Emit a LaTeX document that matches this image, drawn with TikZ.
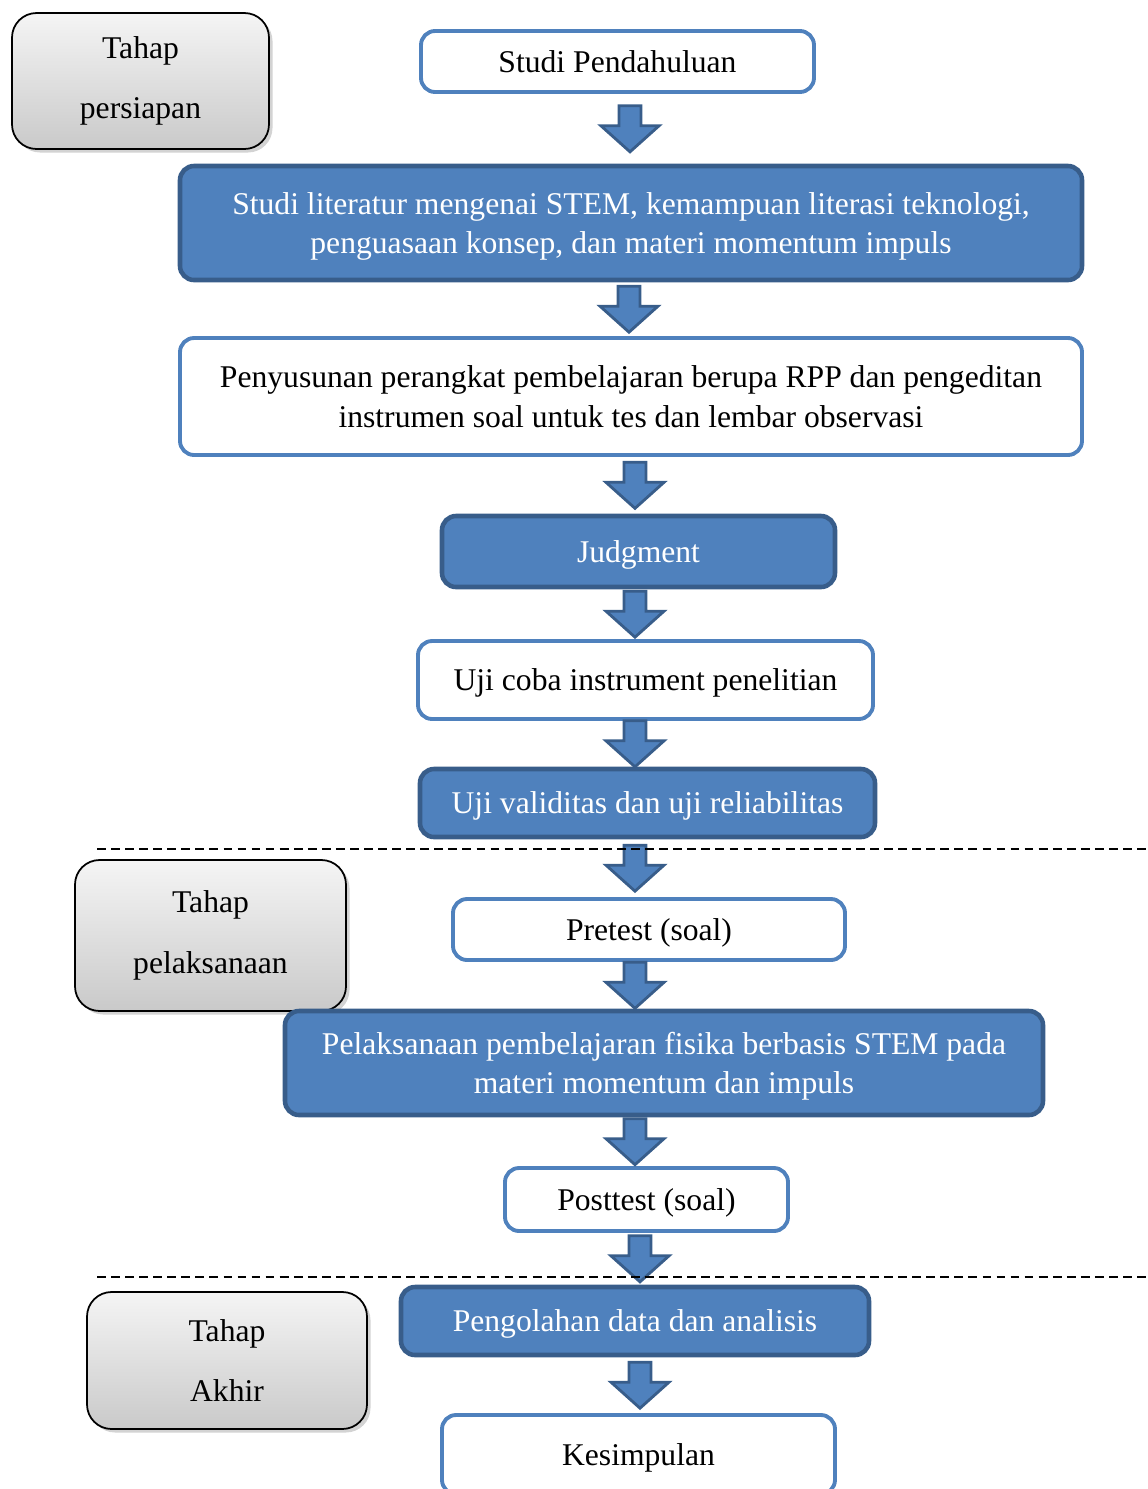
\documentclass[tikz,border=0pt]{standalone}
\usepackage{fontspec}
\setmainfont{Liberation Serif}
\usetikzlibrary{calc,shadows}
\definecolor{biru}{HTML}{4F81BD}
\definecolor{birutua}{HTML}{385D8A}
\newcommand\kotak[7]{\node[#2,minimum width={(#5-#3-4)*0.02cm},minimum height={(#6-#4-4)*0.02cm}] (#1) at ({(#3+#5)/2},{(#4+#6)/2}) {#7};}
\newcommand\panah[3]{%
    \coordinate (px) at (#3,0);
    \coordinate (pm) at ($(#1.south)!.5!(#2.north)$);
    \pic at (pm -| px) {panahblok};
}
\begin{document}
\begin{tikzpicture}[x=0.02cm,y=-0.02cm,
    teks/.style={font=\fontsize{18}{22.5}\selectfont,align=center,inner sep=0pt},
    putih/.style={teks,text depth=0pt,draw=biru,fill=white,line width=2.2pt,rounded corners=8pt},
    biruk/.style={teks,text depth=0pt,draw=birutua,fill=biru,text=white,line width=2.6pt,rounded corners=8pt},
    tahap/.style={teks,draw=black,line width=1pt,rounded corners=14pt,top color=gray!8,bottom color=gray!42,
        drop shadow={shadow xshift=2pt,shadow yshift=-2pt,opacity=.35}},
    garis/.style={dash pattern=on 5pt off 3pt,line width=1pt},
    panahblok/.pic={\draw[fill=biru,draw=birutua,line width=1.6pt,line join=miter]
        (-11,-23)--(11,-23)--(11,-3)--(29,-3)--(0,23)--(-29,-3)--(-11,-3)--cycle;}]
    \useasboundingbox (0,0) rectangle (1148,1489);
    \kotak{t1}{tahap}{10}{11}{271}{151}{Tahap\\[12pt]persiapan}
    \kotak{t2}{tahap}{73}{858}{348}{1013}{Tahap\\[12pt]pelaksanaan}
    \kotak{t3}{tahap}{85}{1290}{369}{1431}{Tahap\\[12pt]Akhir}
    \kotak{s1}{putih}{419}{29}{816}{94}{Studi Pendahuluan}
    \kotak{s2}{biruk}{178}{164}{1084}{282}{Studi literatur mengenai STEM, kemampuan literasi teknologi,\\penguasaan konsep, dan materi momentum impuls}
    \kotak{s3}{putih}{178}{336}{1084}{457}{Penyusunan perangkat pembelajaran berupa RPP dan pengeditan\\instrumen soal untuk tes dan lembar observasi}
    \kotak{s4}{biruk}{440}{514}{837}{589}{Judgment}
    \kotak{s5}{putih}{416}{639}{875}{721}{Uji coba instrument penelitian}
    \kotak{s6}{biruk}{418}{767}{877}{839}{Uji validitas dan uji reliabilitas}
    \kotak{s7}{putih}{451}{897}{847}{962}{Pretest (soal)}
    \kotak{s8}{biruk}{283}{1009}{1045}{1117}{Pelaksanaan pembelajaran fisika berbasis STEM pada\\materi momentum dan impuls}
    \kotak{s9}{putih}{503}{1166}{790}{1233}{Posttest (soal)}
    \kotak{s10}{biruk}{399}{1285}{871}{1357}{Pengolahan data dan analisis}
    \kotak{s11}{putih}{440}{1413}{837}{1496}{Kesimpulan}
    \panah{s1}{s2}{630}
    \panah{s2}{s3}{629}
    \panah{s3}{s4}{635}
    \panah{s4}{s5}{635}
    \panah{s5}{s6}{635}
    \panah{s6}{s7}{635}
    \panah{s7}{s8}{635}
    \panah{s8}{s9}{635}
    \panah{s9}{s10}{640}
    \panah{s10}{s11}{640}
    \draw[garis] (97,849)--(1148,849);
    \draw[garis] (97,1277)--(1148,1277);
\end{tikzpicture}
\end{document}
